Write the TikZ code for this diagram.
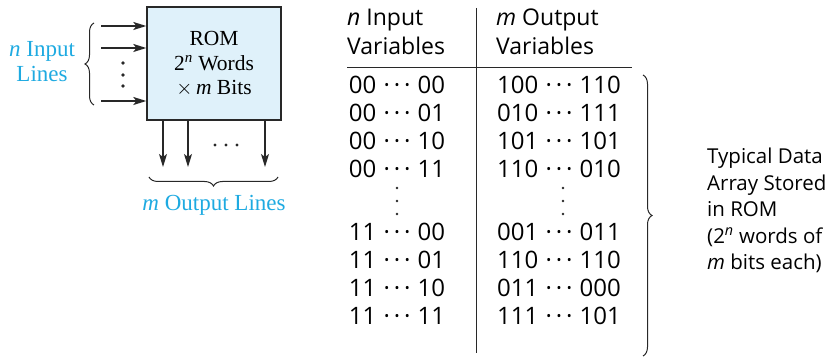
\documentclass[tikz,border=0pt]{standalone}
\usepackage{fontspec}
\setmainfont{Liberation Serif}
\newfontfamily\tabfont{Open Sans}
\usetikzlibrary{arrows.meta,decorations.pathreplacing}
\definecolor{romfill}{RGB}{223,241,250}
\definecolor{labcyan}{RGB}{30,170,225}
\definecolor{edge}{RGB}{40,40,40}
\newcommand{\dts}{\hspace{0.3em}·\hspace{0.16em}·\hspace{0.16em}·\hspace{0.3em}}
\tikzset{
  arr/.style={line width=1.4pt,draw=edge,-{Stealth[length=13pt,width=8pt,inset=3pt]}},
  brc/.style={line width=1pt,draw=edge,decorate,decoration={brace,amplitude=#1}},
  lab/.style={text=labcyan,font=\fontsize{23}{25}\selectfont,align=center,inner sep=0pt},
  romtxt/.style={font=\fontsize{21.5}{24.5}\selectfont,align=center},
  cell/.style={font=\tabfont\fontsize{24}{26}\selectfont,inner sep=0pt,anchor=center},
  hdr/.style={font=\tabfont\fontsize{23}{29}\selectfont,inner sep=0pt,align=left,anchor=west},
  side/.style={font=\tabfont\fontsize{20.5}{26.5}\selectfont,inner sep=0pt,align=left,anchor=west},
  dotc/.style={fill=edge,draw=none},
  rule/.style={line width=1pt,draw=edge}
}
\begin{document}
\begin{tikzpicture}[x=1pt,y=-1pt]
\useasboundingbox (0,0) rectangle (831,358);
% ROM box
\node[draw=edge,line width=1.4pt,fill=romfill,minimum width=134pt,minimum height=113pt,inner sep=0pt] (rom) at (214,63.5) {};
\node[romtxt] (romlabel) at (214,64) {ROM\\2\textsuperscript{\textit{n}} Words\\$\times$\,\textit{m} Bits};
% input arrows
\coordinate (in1) at (101,26);
\coordinate (in2) at (101,48);
\coordinate (in3) at (101,101);
\draw[arr] (in1) -- (in1 -| rom.west);
\draw[arr] (in2) -- (in2 -| rom.west);
\draw[arr] (in3) -- (in3 -| rom.west);
\fill[dotc] (123,63) circle (1.8) (123,75) circle (1.8) (123,86) circle (1.8);
% input brace and label
\coordinate (ib1) at (94,105);
\coordinate (ib2) at (94,23);
\draw[brc=9pt] (ib1) -- (ib2);
\node[lab] (inlab) at (42,62) {\textit{n} Input\\Lines};
% output arrows
\coordinate (out1) at (163,167);
\coordinate (out2) at (188,167);
\coordinate (out3) at (265,167);
\draw[arr] (out1 |- rom.south) -- (out1);
\draw[arr] (out2 |- rom.south) -- (out2);
\draw[arr] (out3 |- rom.south) -- (out3);
\fill[dotc] (215,145) circle (1.6) (226,145) circle (1.6) (237,145) circle (1.6);
\coordinate (ob1) at (278,177);
\coordinate (ob2) at (149,177);
\draw[brc=9pt] (ob1) -- (ob2);
\node[lab] (outlab) at (214,205) {\textit{m} Output Lines};
% table rules
\coordinate (vt) at (476,8);
\coordinate (vb) at (476,353);
\coordinate (hl) at (347,67.5);
\coordinate (hr) at (632,67.5);
\draw[rule] (vt) -- (vb);
\draw[rule] (hl) -- (hr);
% headers
\node[hdr] (h1) at (347,32) {\textit{n} Input\\Variables};
\node[hdr] (h2) at (496,32) {\textit{m} Output\\Variables};
% rows
\node[cell] (l1) at (397,85) {00\dts00};
\node[cell] (l2) at (397,113) {00\dts01};
\node[cell] (l3) at (397,141) {00\dts10};
\node[cell] (l4) at (397,169) {00\dts11};
\node[cell] (l5) at (397,232) {11\dts00};
\node[cell] (l6) at (397,260) {11\dts01};
\node[cell] (l7) at (397,288) {11\dts10};
\node[cell] (l8) at (397,316) {11\dts11};
\node[cell] (r1) at (559,85) {100\dts110};
\node[cell] (r2) at (559,113) {010\dts111};
\node[cell] (r3) at (559,141) {101\dts101};
\node[cell] (r4) at (559,169) {110\dts010};
\node[cell] (r5) at (559,232) {001\dts011};
\node[cell] (r6) at (559,260) {110\dts110};
\node[cell] (r7) at (559,288) {011\dts000};
\node[cell] (r8) at (559,316) {111\dts101};
\fill[dotc] (397,188) circle (1.3) (397,201) circle (1.3) (397,214) circle (1.3);
\fill[dotc] (563,188) circle (1.3) (563,201) circle (1.3) (563,214) circle (1.3);
% right brace and note
\coordinate (rb1) at (643,75);
\coordinate (rb2) at (643,356);
\draw[brc=9pt] (rb1) -- (rb2);
\node[side] (note) at (707,210.5) {Typical Data\\Array Stored\\in ROM\\(2\textsuperscript{\textit{n}} words of\\\textit{m} bits each)};
\end{tikzpicture}
\end{document}
